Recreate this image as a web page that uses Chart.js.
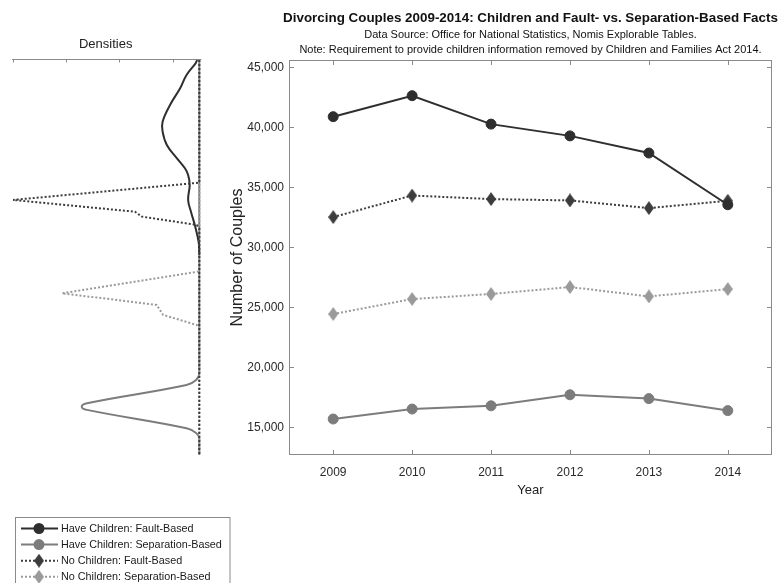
<!DOCTYPE html>
<html>
<head>
<meta charset="utf-8">
<script src="https://cdn.jsdelivr.net/npm/chart.js@4.4.1/dist/chart.umd.min.js"></script>
<style>
  html, body { margin: 0; padding: 0; background: #ffffff; }
  #wrap { position: relative; width: 780px; height: 583px; overflow: hidden; }
  #wrap canvas { position: absolute; left: 0; top: 0; }
</style>
</head>
<body>
<div id="wrap">
  <canvas id="densities" width="780" height="583"></canvas>
  <canvas id="trend" width="780" height="583"></canvas>
</div>
<script>
// ---- data -------------------------------------------------------------
const years = [2009, 2010, 2011, 2012, 2013, 2014];
const haveChildrenFault = [40900, 42650, 40280, 39300, 37870, 33560];
const haveChildrenSeparation = [15700, 16530, 16800, 17720, 17400, 16400];
const noChildrenFault = [32530, 34330, 34030, 33920, 33280, 33890];
const noChildrenSeparation = [24450, 25700, 26120, 26700, 25920, 26530];
const yTickValues = [15000, 20000, 25000, 30000, 35000, 40000, 45000];
const seriesNames = [
  'Have Children: Fault-Based',
  'Have Children: Separation-Based',
  'No Children: Fault-Based',
  'No Children: Separation-Based'
];
const chartTitle = 'Divorcing Couples 2009-2014: Children and Fault- vs. Separation-Based Facts';
const chartNotes = [
  'Data Source: Office for National Statistics, Nomis Explorable Tables.',
  'Note: Requirement to provide children information removed by Children and Families Act 2014.'
];

// density profiles: [number of couples, density]
const densHaveChildrenFault = [
  [45625, 0.04], [45350, 0.07], [44380, 0.24], [43270, 0.36], [41880, 0.55],
  [40480, 0.69], [39650, 0.69], [38540, 0.61], [37430, 0.42], [36600, 0.27],
  [36040, 0.21], [35210, 0.18], [33960, 0.21], [32880, 0.15], [31790, 0.08],
  [30380, 0.01], [29380, 0]
];
const densHaveChildrenSeparation = [
  [45625, 0], [19520, 0], [18960, 0.06], [18540, 0.24], [17020, 2.11],
  [16730, 2.21], [16460, 2.11], [14930, 0.24], [14540, 0.06], [14100, 0], [12700, 0]
];
const densNoChildrenFault = [
  [45625, 0], [35400, 0], [33960, 3.50], [32980, 1.21], [32570, 1.08],
  [31880, 0.05], [31600, 0], [12700, 0]
];
const densNoChildrenSeparation = [
  [45625, 0], [28000, 0], [26180, 2.58], [25210, 0.80], [24790, 0.74],
  [24380, 0.68], [23540, 0.05], [23270, 0], [12700, 0]
];
const densTickValues = [0.5, 1.5, 2.5, 3.5];

// ---- styling -----------------------------------------------------------
const FONT = "'Liberation Sans', Arial, Helvetica, sans-serif";
Chart.defaults.font.family = FONT;
Chart.defaults.color = '#2a2a2a';

const Y_MIN = 12700, Y_MAX = 45625;
const AXIS_GREY = '#8a8a8a';
const DOT = [2, 2];

function diamondImage(color, w, h) {
  const c = document.createElement('canvas');
  c.width = w; c.height = h;
  const g = c.getContext('2d');
  g.fillStyle = color;
  g.beginPath();
  g.moveTo(w / 2, 0); g.lineTo(w, h / 2); g.lineTo(w / 2, h); g.lineTo(0, h / 2);
  g.closePath(); g.fill();
  return c;
}

const styles = [
  { color: '#2e2e2e', dash: [], marker: 'circle' },
  { color: '#7c7c7c', dash: [], marker: 'circle' },
  { color: '#3c3c3c', dash: DOT, marker: diamondImage('#3c3c3c', 10, 14) },
  { color: '#9a9a9a', dash: DOT, marker: diamondImage('#9a9a9a', 10, 14) }
];
const seriesValues = [haveChildrenFault, haveChildrenSeparation, noChildrenFault, noChildrenSeparation];

// ---- main chart: inward ticks, framed plot area, centred heading ------
const framePlugin = {
  id: 'frame',
  beforeDatasetsDraw(chart) {
    const { ctx, chartArea: a, scales: { x, y } } = chart;
    const L = 5;
    ctx.save();
    ctx.strokeStyle = AXIS_GREY;
    ctx.lineWidth = 1;
    ctx.strokeRect(Math.round(a.left) + 0.5, Math.round(a.top) + 0.5,
                   Math.round(a.right - a.left) - 1, Math.round(a.bottom - a.top) - 1);
    ctx.beginPath();
    yTickValues.forEach(v => {
      const py = Math.round(y.getPixelForValue(v)) + 0.5;
      ctx.moveTo(a.left, py); ctx.lineTo(a.left + L, py);
      ctx.moveTo(a.right - L, py); ctx.lineTo(a.right, py);
    });
    years.forEach(v => {
      const px = Math.round(x.getPixelForValue(v)) + 0.5;
      ctx.moveTo(px, a.bottom); ctx.lineTo(px, a.bottom - L);
      ctx.moveTo(px, a.top); ctx.lineTo(px, a.top + L);
    });
    ctx.stroke();
    ctx.restore();
  },
  afterDraw(chart) {
    const { ctx, chartArea: a } = chart;
    const cx = (a.left + a.right) / 2;
    ctx.save();
    ctx.fillStyle = '#111111';
    ctx.textAlign = 'center';
    ctx.textBaseline = 'middle';
    ctx.font = 'bold 13.4px ' + FONT;
    ctx.fillText(chartTitle, cx, 18);
    ctx.font = '11px ' + FONT;
    ctx.fillText(chartNotes[0], cx, 35);
    ctx.fillText(chartNotes[1], cx, 50);
    ctx.restore();
  }
};

new Chart(document.getElementById('trend'), {
  type: 'scatter',
  data: {
    datasets: seriesValues.map((vals, i) => ({
      label: seriesNames[i],
      data: years.map((yr, k) => ({ x: yr, y: vals[k] })),
      showLine: true,
      borderColor: styles[i].color,
      backgroundColor: styles[i].color,
      borderWidth: 2,
      borderDash: styles[i].dash,
      pointStyle: styles[i].marker,
      pointRadius: 5,
      pointBorderWidth: 1,
      pointBorderColor: styles[i].color,
      pointBackgroundColor: styles[i].color,
      tension: 0,
      clip: false
    }))
  },
  options: {
    responsive: false,
    animation: false,
    events: [],
    layout: { padding: { left: 220, right: 8, top: 60, bottom: 85.2 } },
    plugins: {
      legend: { display: false },
      tooltip: { enabled: false },
      title: { display: false },
      subtitle: { display: false }
    },
    scales: {
      x: {
        type: 'linear', min: 2008.44, max: 2014.56,
        grid: { display: false, drawTicks: false },
        border: { display: false },
        afterBuildTicks: s => { s.ticks = years.map(v => ({ value: v })); },
        afterFit: s => { s.height = 42.8; },
        ticks: { padding: 10.5, font: { size: 12 }, maxRotation: 0, callback: v => String(v) },
        title: { display: true, text: 'Year', font: { size: 13 }, color: '#222222', padding: 0 }
      },
      y: {
        type: 'linear', min: Y_MIN, max: Y_MAX,
        grid: { display: false, drawTicks: false },
        border: { display: false },
        afterBuildTicks: s => { s.ticks = yTickValues.map(v => ({ value: v })); },
        afterFit: s => { s.width = 69; },
        ticks: { padding: 5, font: { size: 12 }, callback: v => v.toLocaleString('en-US') },
        title: { display: true, text: 'Number of Couples', font: { size: 16 }, color: '#222222', padding: { top: 8, bottom: 0 } }
      }
    }
  },
  plugins: [framePlugin]
});

// ---- side panel: density axis and series key -------------------------
const densAxisPlugin = {
  id: 'densAxis',
  afterDraw(chart) {
    const { ctx, chartArea: a, scales: { x } } = chart;
    ctx.save();
    ctx.strokeStyle = AXIS_GREY;
    ctx.lineWidth = 1;
    ctx.beginPath();
    const ty = Math.round(a.top) - 0.5;
    ctx.moveTo(a.left, ty); ctx.lineTo(a.right + 2, ty);
    densTickValues.forEach(v => {
      const px = Math.round(x.getPixelForValue(v)) + 0.5;
      ctx.moveTo(px, ty); ctx.lineTo(px, ty + 3);
    });
    ctx.stroke();
    ctx.restore();
  }
};

const keyPlugin = {
  id: 'seriesKey',
  afterDraw(chart) {
    const ctx = chart.ctx;
    ctx.save();
    ctx.fillStyle = '#ffffff';
    ctx.fillRect(15.5, 517.5, 214.5, 90);
    ctx.strokeStyle = AXIS_GREY;
    ctx.lineWidth = 1;
    ctx.strokeRect(15.5, 517.5, 214.5, 90);
    styles.forEach((s, i) => {
      const cy = 528.5 + i * 16.1;
      ctx.beginPath();
      ctx.setLineDash(s.dash);
      ctx.strokeStyle = s.color;
      ctx.lineWidth = 2;
      ctx.moveTo(21, cy); ctx.lineTo(58, cy);
      ctx.stroke();
      ctx.setLineDash([]);
      if (s.marker === 'circle') {
        ctx.beginPath();
        ctx.fillStyle = s.color;
        ctx.arc(39, cy, 5.5, 0, Math.PI * 2);
        ctx.fill();
      } else {
        ctx.drawImage(s.marker, 39 - s.marker.width / 2, cy - s.marker.height / 2);
      }
      ctx.fillStyle = '#1a1a1a';
      ctx.font = '10.8px ' + FONT;
      ctx.textBaseline = 'middle';
      ctx.textAlign = 'left';
      ctx.fillText(seriesNames[i], 61, cy + 0.5);
    });
    ctx.restore();
  }
};

const densSeries = [
  { data: densNoChildrenFault, style: styles[2], tension: 0, order: 0 },
  { data: densNoChildrenSeparation, style: styles[3], tension: 0, order: 1 },
  { data: densHaveChildrenFault, style: styles[0], tension: 0.4, order: 2 },
  { data: densHaveChildrenSeparation, style: styles[1], tension: 0.4, order: 3 }
];

new Chart(document.getElementById('densities'), {
  type: 'scatter',
  data: {
    datasets: densSeries.map(d => ({
      data: d.data.map(p => ({ x: p[1], y: p[0] })),
      showLine: true,
      borderColor: d.style.color,
      borderWidth: 2,
      borderDash: d.style.dash,
      pointRadius: 0,
      tension: d.tension,
      order: d.order,
      clip: false
    }))
  },
  options: {
    responsive: false,
    animation: false,
    events: [],
    layout: { padding: { left: 12, right: 580.7, top: 0, bottom: 128 } },
    plugins: {
      legend: { display: false },
      tooltip: { enabled: false },
      title: {
        display: true, text: 'Densities',
        font: { size: 13, weight: 'normal' }, color: '#222222',
        padding: { top: 37, bottom: 7.4 }
      }
    },
    scales: {
      x: { type: 'linear', reverse: true, min: 0, max: 3.52, display: false },
      y: { type: 'linear', min: Y_MIN, max: Y_MAX, display: false }
    }
  },
  plugins: [densAxisPlugin, keyPlugin]
});
</script>
</body>
</html>
